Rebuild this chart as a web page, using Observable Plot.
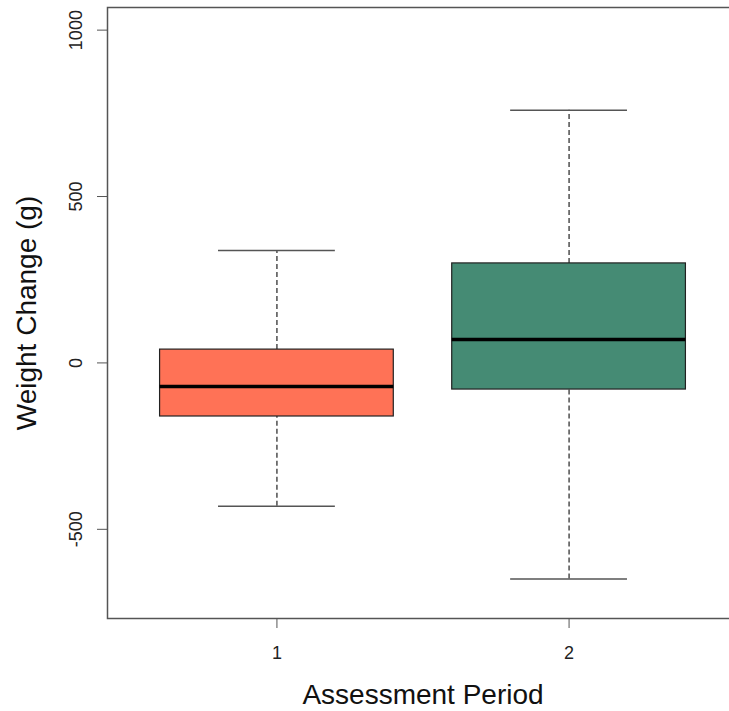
<!DOCTYPE html>
<html><head><meta charset="utf-8">
<script src="https://cdn.jsdelivr.net/npm/d3@7"></script>
<script src="https://cdn.jsdelivr.net/npm/@observablehq/plot@0.6"></script>
<style>
html,body{margin:0;padding:0;background:#fff;overflow:hidden;}
#chart svg{display:block;overflow:hidden;}
</style>
</head><body><div id="chart"></div>
<script>
const periods = [1, 2];
const periodLabels = ["1", "2"];
const lowerWhisker = [-431, -649];
const lowerQuartile = [-161, -80];
const medians = [-71, 70];
const upperQuartile = [40, 299];
const upperWhisker = [338, 759];
const yTicks = [-500, 0, 500, 1000];
const boxColors = ["#FF7256", "#458B74"];
const yLabel = "Weight Change (g)";
const xLabel = "Assessment Period";

const rows = periods.map((p, i) => ({
  period: p, lo: lowerWhisker[i], q1: lowerQuartile[i], med: medians[i],
  q3: upperQuartile[i], hi: upperWhisker[i]
}));
const boxHalf = 0.4, capHalf = 0.2;

const chart = Plot.plot({
  width: 729, height: 711,
  marginLeft: 107, marginRight: -9, marginTop: 7, marginBottom: 93,
  style: {fontFamily: "'Liberation Sans', Arial, sans-serif", fontSize: "18px", background: "#fff", color: "#000"},
  x: {type: "linear", domain: [0.42, 2.58], axis: null},
  y: {domain: [-768, 1068], axis: null},
  color: {domain: periods, range: boxColors},
  marks: [
    Plot.ruleX(rows, {x: "period", y1: "q3", y2: "hi", stroke: "#222", strokeDasharray: "5,3", strokeWidth: 1.2}),
    Plot.ruleX(rows, {x: "period", y1: "lo", y2: "q1", stroke: "#222", strokeDasharray: "5,3", strokeWidth: 1.2}),
    Plot.ruleY(rows, {y: "hi", x1: d => d.period - capHalf, x2: d => d.period + capHalf, stroke: "#555", strokeWidth: 1.5}),
    Plot.ruleY(rows, {y: "lo", x1: d => d.period - capHalf, x2: d => d.period + capHalf, stroke: "#555", strokeWidth: 1.5}),
    Plot.rect(rows, {x1: d => d.period - boxHalf, x2: d => d.period + boxHalf, y1: "q1", y2: "q3", fill: "period", stroke: "#222", strokeWidth: 1.2}),
    Plot.ruleY(rows, {y: "med", x1: d => d.period - boxHalf, x2: d => d.period + boxHalf, stroke: "#000", strokeWidth: 3.5}),
    Plot.frame({stroke: "#555", strokeWidth: 1.5}),
    Plot.axisY(yTicks, {anchor: "left", tickSize: 10, tickPadding: 16, tickRotate: -90, fontSize: 18, stroke: "#555", fill: "#222", label: null, tickFormat: d => String(d)}),
    Plot.axisX(periods, {anchor: "bottom", tickSize: 10, tickPadding: 18, fontSize: 18, stroke: "#555", fill: "#222", label: null, tickFormat: d => periodLabels[periods.indexOf(d)]}),
    Plot.text([yLabel], {frameAnchor: "left", textAnchor: "middle", dx: -71.5, rotate: -90, fontSize: 28, lineAnchor: "bottom", fill: "#111"}),
    Plot.text([xLabel], {frameAnchor: "bottom", textAnchor: "middle", dy: 85, fontSize: 28, lineAnchor: "bottom", fill: "#111"})
  ]
});
document.getElementById("chart").appendChild(chart);
</script>
</body></html>
